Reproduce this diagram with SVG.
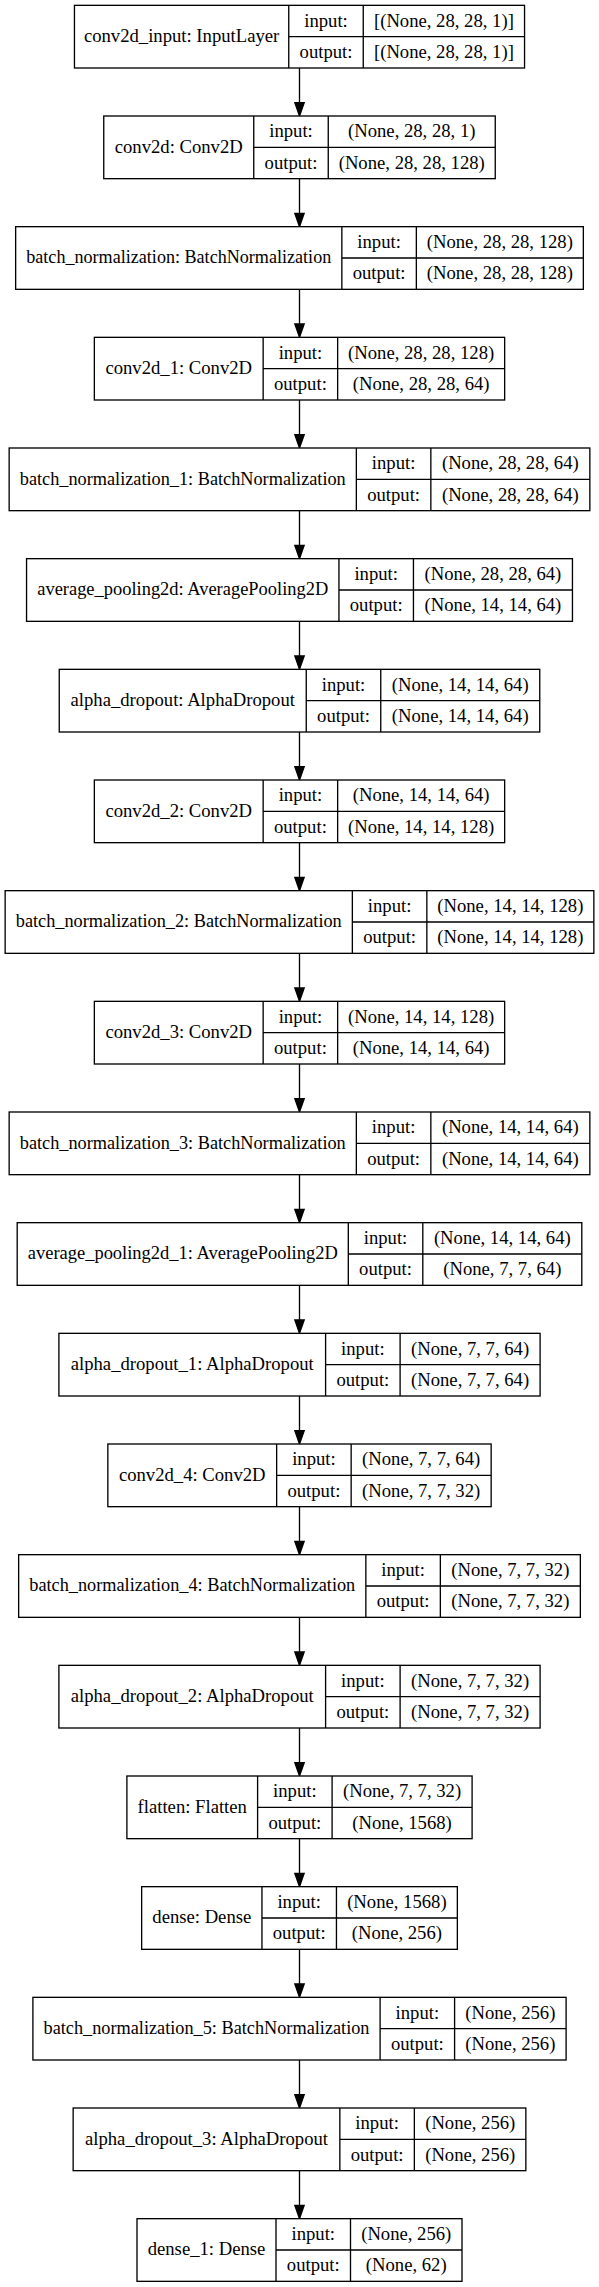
<svg xmlns="http://www.w3.org/2000/svg" width="599" height="2287" viewBox="0 0 599 2287">
<defs>
<style>
.box{fill:#fff;stroke:#000;stroke-width:1.33}
.ln{stroke:#000;stroke-width:1.33;fill:none}
.t{font-family:"Liberation Serif","Times New Roman",serif;font-size:18.67px;text-anchor:middle;fill:#000}
.edge{stroke:#000;stroke-width:1.33;fill:none;marker-end:url(#ah)}
</style>
<marker id="ah" markerUnits="userSpaceOnUse" markerWidth="13.33" markerHeight="9.33" refX="0" refY="4.67" orient="auto" viewBox="0 0 13.33 9.33" overflow="visible">
<path d="M0,0 L13.33,4.67 L0,9.33 z" fill="#000" stroke="#000" stroke-width="1.33"/>
</marker>
</defs>
<rect width="599" height="2287" fill="#fff"/>
<g id="edges">
<line class="edge" x1="299.5" y1="68" x2="299.5" y2="102.67"/>
<line class="edge" x1="299.5" y1="178.67" x2="299.5" y2="213.33"/>
<line class="edge" x1="299.5" y1="289.33" x2="299.5" y2="324"/>
<line class="edge" x1="299.5" y1="400" x2="299.5" y2="434.67"/>
<line class="edge" x1="299.5" y1="510.67" x2="299.5" y2="545.33"/>
<line class="edge" x1="299.5" y1="621.33" x2="299.5" y2="656"/>
<line class="edge" x1="299.5" y1="732" x2="299.5" y2="766.67"/>
<line class="edge" x1="299.5" y1="842.67" x2="299.5" y2="877.33"/>
<line class="edge" x1="299.5" y1="953.33" x2="299.5" y2="988"/>
<line class="edge" x1="299.5" y1="1064" x2="299.5" y2="1098.67"/>
<line class="edge" x1="299.5" y1="1174.67" x2="299.5" y2="1209.33"/>
<line class="edge" x1="299.5" y1="1285.33" x2="299.5" y2="1320"/>
<line class="edge" x1="299.5" y1="1396" x2="299.5" y2="1430.67"/>
<line class="edge" x1="299.5" y1="1506.67" x2="299.5" y2="1541.33"/>
<line class="edge" x1="299.5" y1="1617.33" x2="299.5" y2="1652"/>
<line class="edge" x1="299.5" y1="1728" x2="299.5" y2="1762.67"/>
<line class="edge" x1="299.5" y1="1838.67" x2="299.5" y2="1873.33"/>
<line class="edge" x1="299.5" y1="1949.33" x2="299.5" y2="1984"/>
<line class="edge" x1="299.5" y1="2060" x2="299.5" y2="2094.67"/>
<line class="edge" x1="299.5" y1="2170.67" x2="299.5" y2="2205.33"/>
</g>

<g id="conv2d_input" transform="translate(0,5.33)">
<rect class="box" x="74.45" y="0" width="450.1" height="62.67"/>
<path class="ln" d="M288.75,0V62.67M363.25,0V62.67M288.75,31.33H524.55"/>
<text class="t" x="181.6" y="36.8">conv2d_input: InputLayer</text>
<text class="t" x="326" y="21.2">input:</text>
<text class="t" x="326" y="52.5">output:</text>
<text class="t" x="443.9" y="21.2">[(None, 28, 28, 1)]</text>
<text class="t" x="443.9" y="52.5">[(None, 28, 28, 1)]</text>
</g>

<g id="conv2d" transform="translate(0,116)">
<rect class="box" x="103.75" y="0" width="391.5" height="62.67"/>
<path class="ln" d="M253.75,0V62.67M328.25,0V62.67M253.75,31.33H495.25"/>
<text class="t" x="178.75" y="36.8">conv2d: Conv2D</text>
<text class="t" x="291" y="21.2">input:</text>
<text class="t" x="291" y="52.5">output:</text>
<text class="t" x="411.75" y="21.2">(None, 28, 28, 1)</text>
<text class="t" x="411.75" y="52.5">(None, 28, 28, 128)</text>
</g>

<g id="batch_normalization" transform="translate(0,226.67)">
<rect class="box" x="15.65" y="0" width="567.7" height="62.67"/>
<path class="ln" d="M341.85,0V62.67M416.35,0V62.67M341.85,31.33H583.35"/>
<text class="t" x="178.75" y="36.8" textLength="305" lengthAdjust="spacingAndGlyphs">batch_normalization: BatchNormalization</text>
<text class="t" x="379.1" y="21.2">input:</text>
<text class="t" x="379.1" y="52.5">output:</text>
<text class="t" x="499.85" y="21.2">(None, 28, 28, 128)</text>
<text class="t" x="499.85" y="52.5">(None, 28, 28, 128)</text>
</g>

<g id="conv2d_1" transform="translate(0,337.33)">
<rect class="box" x="94.35" y="0" width="410.3" height="62.67"/>
<path class="ln" d="M263.15,0V62.67M337.65,0V62.67M263.15,31.33H504.65"/>
<text class="t" x="178.75" y="36.8">conv2d_1: Conv2D</text>
<text class="t" x="300.4" y="21.2">input:</text>
<text class="t" x="300.4" y="52.5">output:</text>
<text class="t" x="421.15" y="21.2">(None, 28, 28, 128)</text>
<text class="t" x="421.15" y="52.5">(None, 28, 28, 64)</text>
</g>

<g id="batch_normalization_1" transform="translate(0,448)">
<rect class="box" x="9.15" y="0" width="580.7" height="62.67"/>
<path class="ln" d="M356.35,0V62.67M430.85,0V62.67M356.35,31.33H589.85"/>
<text class="t" x="182.75" y="36.8" textLength="326" lengthAdjust="spacingAndGlyphs">batch_normalization_1: BatchNormalization</text>
<text class="t" x="393.6" y="21.2">input:</text>
<text class="t" x="393.6" y="52.5">output:</text>
<text class="t" x="510.35" y="21.2">(None, 28, 28, 64)</text>
<text class="t" x="510.35" y="52.5">(None, 28, 28, 64)</text>
</g>

<g id="average_pooling2d" transform="translate(0,558.67)">
<rect class="box" x="26.55" y="0" width="545.9" height="62.67"/>
<path class="ln" d="M338.95,0V62.67M413.45,0V62.67M338.95,31.33H572.45"/>
<text class="t" x="182.75" y="36.8" textLength="291" lengthAdjust="spacingAndGlyphs">average_pooling2d: AveragePooling2D</text>
<text class="t" x="376.2" y="21.2">input:</text>
<text class="t" x="376.2" y="52.5">output:</text>
<text class="t" x="492.95" y="21.2">(None, 28, 28, 64)</text>
<text class="t" x="492.95" y="52.5">(None, 14, 14, 64)</text>
</g>

<g id="alpha_dropout" transform="translate(0,669.33)">
<rect class="box" x="59.25" y="0" width="480.5" height="62.67"/>
<path class="ln" d="M306.25,0V62.67M380.75,0V62.67M306.25,31.33H539.75"/>
<text class="t" x="182.75" y="36.8">alpha_dropout: AlphaDropout</text>
<text class="t" x="343.5" y="21.2">input:</text>
<text class="t" x="343.5" y="52.5">output:</text>
<text class="t" x="460.25" y="21.2">(None, 14, 14, 64)</text>
<text class="t" x="460.25" y="52.5">(None, 14, 14, 64)</text>
</g>

<g id="conv2d_2" transform="translate(0,780)">
<rect class="box" x="94.35" y="0" width="410.3" height="62.67"/>
<path class="ln" d="M263.15,0V62.67M337.65,0V62.67M263.15,31.33H504.65"/>
<text class="t" x="178.75" y="36.8">conv2d_2: Conv2D</text>
<text class="t" x="300.4" y="21.2">input:</text>
<text class="t" x="300.4" y="52.5">output:</text>
<text class="t" x="421.15" y="21.2">(None, 14, 14, 64)</text>
<text class="t" x="421.15" y="52.5">(None, 14, 14, 128)</text>
</g>

<g id="batch_normalization_2" transform="translate(0,890.67)">
<rect class="box" x="5.15" y="0" width="588.7" height="62.67"/>
<path class="ln" d="M352.35,0V62.67M426.85,0V62.67M352.35,31.33H593.85"/>
<text class="t" x="178.75" y="36.8" textLength="326" lengthAdjust="spacingAndGlyphs">batch_normalization_2: BatchNormalization</text>
<text class="t" x="389.6" y="21.2">input:</text>
<text class="t" x="389.6" y="52.5">output:</text>
<text class="t" x="510.35" y="21.2">(None, 14, 14, 128)</text>
<text class="t" x="510.35" y="52.5">(None, 14, 14, 128)</text>
</g>

<g id="conv2d_3" transform="translate(0,1001.33)">
<rect class="box" x="94.35" y="0" width="410.3" height="62.67"/>
<path class="ln" d="M263.15,0V62.67M337.65,0V62.67M263.15,31.33H504.65"/>
<text class="t" x="178.75" y="36.8">conv2d_3: Conv2D</text>
<text class="t" x="300.4" y="21.2">input:</text>
<text class="t" x="300.4" y="52.5">output:</text>
<text class="t" x="421.15" y="21.2">(None, 14, 14, 128)</text>
<text class="t" x="421.15" y="52.5">(None, 14, 14, 64)</text>
</g>

<g id="batch_normalization_3" transform="translate(0,1112)">
<rect class="box" x="9.15" y="0" width="580.7" height="62.67"/>
<path class="ln" d="M356.35,0V62.67M430.85,0V62.67M356.35,31.33H589.85"/>
<text class="t" x="182.75" y="36.8" textLength="326" lengthAdjust="spacingAndGlyphs">batch_normalization_3: BatchNormalization</text>
<text class="t" x="393.6" y="21.2">input:</text>
<text class="t" x="393.6" y="52.5">output:</text>
<text class="t" x="510.35" y="21.2">(None, 14, 14, 64)</text>
<text class="t" x="510.35" y="52.5">(None, 14, 14, 64)</text>
</g>

<g id="average_pooling2d_1" transform="translate(0,1222.67)">
<rect class="box" x="17.2" y="0" width="564.6" height="62.67"/>
<path class="ln" d="M348.3,0V62.67M422.8,0V62.67M348.3,31.33H581.8"/>
<text class="t" x="182.75" y="36.8" textLength="310" lengthAdjust="spacingAndGlyphs">average_pooling2d_1: AveragePooling2D</text>
<text class="t" x="385.55" y="21.2">input:</text>
<text class="t" x="385.55" y="52.5">output:</text>
<text class="t" x="502.3" y="21.2">(None, 14, 14, 64)</text>
<text class="t" x="502.3" y="52.5">(None, 7, 7, 64)</text>
</g>

<g id="alpha_dropout_1" transform="translate(0,1333.33)">
<rect class="box" x="58.9" y="0" width="481.2" height="62.67"/>
<path class="ln" d="M325.6,0V62.67M400.1,0V62.67M325.6,31.33H540.1"/>
<text class="t" x="192.25" y="36.8">alpha_dropout_1: AlphaDropout</text>
<text class="t" x="362.85" y="21.2">input:</text>
<text class="t" x="362.85" y="52.5">output:</text>
<text class="t" x="470.1" y="21.2">(None, 7, 7, 64)</text>
<text class="t" x="470.1" y="52.5">(None, 7, 7, 64)</text>
</g>

<g id="conv2d_4" transform="translate(0,1444)">
<rect class="box" x="107.85" y="0" width="383.3" height="62.67"/>
<path class="ln" d="M276.65,0V62.67M351.15,0V62.67M276.65,31.33H491.15"/>
<text class="t" x="192.25" y="36.8">conv2d_4: Conv2D</text>
<text class="t" x="313.9" y="21.2">input:</text>
<text class="t" x="313.9" y="52.5">output:</text>
<text class="t" x="421.15" y="21.2">(None, 7, 7, 64)</text>
<text class="t" x="421.15" y="52.5">(None, 7, 7, 32)</text>
</g>

<g id="batch_normalization_4" transform="translate(0,1554.67)">
<rect class="box" x="18.65" y="0" width="561.7" height="62.67"/>
<path class="ln" d="M365.85,0V62.67M440.35,0V62.67M365.85,31.33H580.35"/>
<text class="t" x="192.25" y="36.8" textLength="326" lengthAdjust="spacingAndGlyphs">batch_normalization_4: BatchNormalization</text>
<text class="t" x="403.1" y="21.2">input:</text>
<text class="t" x="403.1" y="52.5">output:</text>
<text class="t" x="510.35" y="21.2">(None, 7, 7, 32)</text>
<text class="t" x="510.35" y="52.5">(None, 7, 7, 32)</text>
</g>

<g id="alpha_dropout_2" transform="translate(0,1665.33)">
<rect class="box" x="58.9" y="0" width="481.2" height="62.67"/>
<path class="ln" d="M325.6,0V62.67M400.1,0V62.67M325.6,31.33H540.1"/>
<text class="t" x="192.25" y="36.8">alpha_dropout_2: AlphaDropout</text>
<text class="t" x="362.85" y="21.2">input:</text>
<text class="t" x="362.85" y="52.5">output:</text>
<text class="t" x="470.1" y="21.2">(None, 7, 7, 32)</text>
<text class="t" x="470.1" y="52.5">(None, 7, 7, 32)</text>
</g>

<g id="flatten" transform="translate(0,1776)">
<rect class="box" x="126.9" y="0" width="345.2" height="62.67"/>
<path class="ln" d="M257.6,0V62.67M332.1,0V62.67M257.6,31.33H472.1"/>
<text class="t" x="192.25" y="36.8">flatten: Flatten</text>
<text class="t" x="294.85" y="21.2">input:</text>
<text class="t" x="294.85" y="52.5">output:</text>
<text class="t" x="402.1" y="21.2">(None, 7, 7, 32)</text>
<text class="t" x="402.1" y="52.5">(None, 1568)</text>
</g>

<g id="dense" transform="translate(0,1886.67)">
<rect class="box" x="141.65" y="0" width="315.7" height="62.67"/>
<path class="ln" d="M261.95,0V62.67M336.45,0V62.67M261.95,31.33H457.35"/>
<text class="t" x="201.8" y="36.8">dense: Dense</text>
<text class="t" x="299.2" y="21.2">input:</text>
<text class="t" x="299.2" y="52.5">output:</text>
<text class="t" x="396.9" y="21.2">(None, 1568)</text>
<text class="t" x="396.9" y="52.5">(None, 256)</text>
</g>

<g id="batch_normalization_5" transform="translate(0,1997.33)">
<rect class="box" x="32.9" y="0" width="533.2" height="62.67"/>
<path class="ln" d="M380.1,0V62.67M454.6,0V62.67M380.1,31.33H566.1"/>
<text class="t" x="206.5" y="36.8" textLength="326" lengthAdjust="spacingAndGlyphs">batch_normalization_5: BatchNormalization</text>
<text class="t" x="417.35" y="21.2">input:</text>
<text class="t" x="417.35" y="52.5">output:</text>
<text class="t" x="510.35" y="21.2">(None, 256)</text>
<text class="t" x="510.35" y="52.5">(None, 256)</text>
</g>

<g id="alpha_dropout_3" transform="translate(0,2108)">
<rect class="box" x="73.15" y="0" width="452.7" height="62.67"/>
<path class="ln" d="M339.85,0V62.67M414.35,0V62.67M339.85,31.33H526.15"/>
<text class="t" x="206.5" y="36.8">alpha_dropout_3: AlphaDropout</text>
<text class="t" x="377.1" y="21.2">input:</text>
<text class="t" x="377.1" y="52.5">output:</text>
<text class="t" x="470.25" y="21.2">(None, 256)</text>
<text class="t" x="470.25" y="52.5">(None, 256)</text>
</g>

<g id="dense_1" transform="translate(0,2218.67)">
<rect class="box" x="137" y="0" width="325" height="62.67"/>
<path class="ln" d="M276,0V62.67M350.5,0V62.67M276,31.33H462"/>
<text class="t" x="206.5" y="36.8">dense_1: Dense</text>
<text class="t" x="313.25" y="21.2">input:</text>
<text class="t" x="313.25" y="52.5">output:</text>
<text class="t" x="406.25" y="21.2">(None, 256)</text>
<text class="t" x="406.25" y="52.5">(None, 62)</text>
</g>
</svg>
